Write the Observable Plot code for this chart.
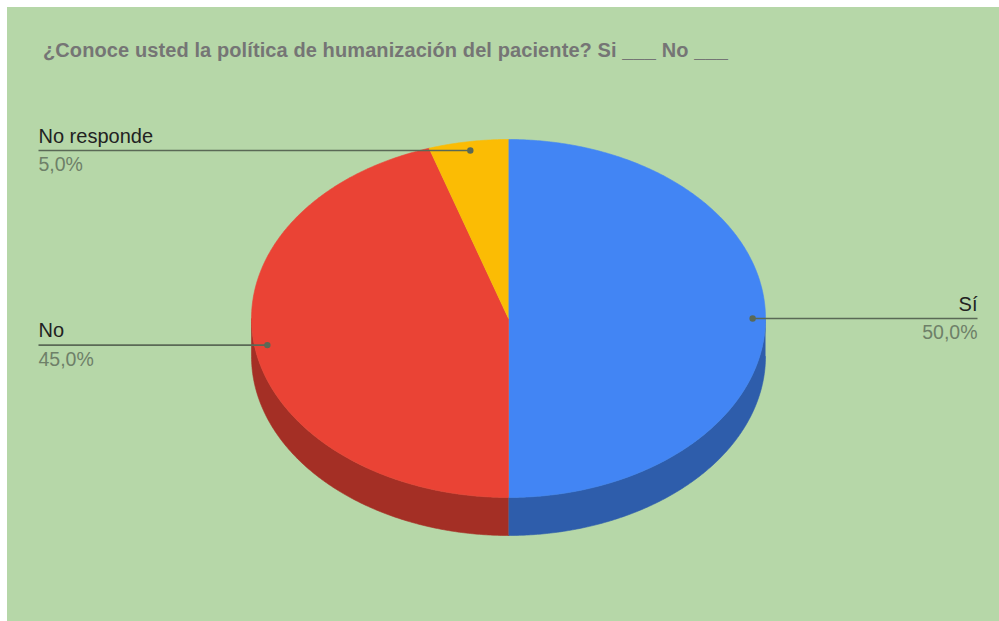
<!DOCTYPE html>
<html>
<head>
<meta charset="utf-8">
<script src="https://cdn.jsdelivr.net/npm/d3@7"></script>
<script src="https://cdn.jsdelivr.net/npm/@observablehq/plot@0.6"></script>
<style>
  html, body { margin: 0; padding: 0; background: #ffffff; }
  #frame { position: absolute; left: 7px; top: 7px; width: 992px; height: 614px; background: #b6d7a8; overflow: hidden; }
  #title { position: absolute; left: 36px; top: 33px; font: bold 20px "Liberation Sans", Arial, sans-serif; line-height: 20px; letter-spacing: 0.1px; color: #757575; white-space: nowrap; }
  #chart { position: absolute; left: 0; top: 0; }
</style>
</head>
<body>
<div id="frame">
  <div id="chart"></div>
  <div id="title">¿Conoce usted la política de humanización del paciente? Si ___ No ___</div>
</div>
<script>
// ---- data ----
const categories = ["Sí", "No", "No responde"];
const values = [50, 45, 5];
const percentLabels = ["50,0%", "45,0%", "5,0%"];
const topColors = ["#4285f4", "#ea4335", "#fbbc04"];
const sideColors = ["#2e5dab", "#a42f25", "#b08403"];

// ---- layout (pixels inside the green frame) ----
const W = 992, H = 614;
const CX = 501, CY = 311;     // pie centre
const RX = 257;               // horizontal radius (px) = 1 unit
const RY = 179 / 257;         // vertical squash (units)
const DEPTH = 38 / 257;       // side thickness (units)
const DOT_R = 0.95;           // label anchor radius fraction
const LEFT_TEXT_X = (31 - CX) / RX;
const RIGHT_TEXT_X = (970 - CX) / RX;

const pie = d3.pie().sort(null).value((d) => d.value);
const rows = categories.map((c, i) => ({category: c, value: values[i], pct: percentLabels[i], top: topColors[i], side: sideColors[i]}));
const arcs = pie(rows);

const pt = (t, k = 1, dz = 0) => ({x: k * Math.sin(t), y: k * Math.cos(t) * RY - dz});
const step = Math.PI / 360;
const sample = (a0, a1) => {
  const n = Math.max(2, Math.ceil((a1 - a0) / step));
  return d3.range(n + 1).map((j) => a0 + (a1 - a0) * j / n);
};

// side faces (front half only: angles PI/2 .. 3PI/2)
const sides = [];
arcs.forEach((a, i) => {
  const s0 = Math.max(a.startAngle, Math.PI / 2);
  const s1 = Math.min(a.endAngle, 3 * Math.PI / 2);
  if (s1 <= s0) return;
  const ts = sample(s0, s1);
  const poly = [...ts.map((t) => pt(t)), ...ts.slice().reverse().map((t) => pt(t, 1, DEPTH))];
  poly.forEach((p) => sides.push({...p, key: "side" + i, color: a.data.side}));
});

// top faces
const tops = [];
arcs.forEach((a, i) => {
  const poly = [{x: 0, y: 0}, ...sample(a.startAngle, a.endAngle).map((t) => pt(t))];
  poly.forEach((p) => tops.push({...p, key: "top" + i, color: a.data.top}));
});

// labels
const labels = arcs.map((a) => {
  const mid = (a.startAngle + a.endAngle) / 2;
  const p = pt(mid, DOT_R);
  const right = Math.sin(mid) > 0;
  return {x: p.x, y: p.y, tx: right ? RIGHT_TEXT_X : LEFT_TEXT_X, right, name: a.data.category, pct: a.data.pct};
});

const font = "Liberation Sans, Arial, sans-serif";
const chart = Plot.plot({
  width: W,
  height: H,
  margin: 0,
  style: {background: "transparent", fontFamily: font},
  x: {domain: [(0 - CX) / RX, (W - CX) / RX], range: [0, W], axis: null},
  y: {domain: [-(H - CY) / RX, CY / RX], range: [H, 0], axis: null},
  color: {type: "identity"},
  marks: [
    Plot.line(sides, {x: "x", y: "y", z: "key", fill: "color", stroke: "color", strokeWidth: 0.6}),
    Plot.line(tops, {x: "x", y: "y", z: "key", fill: "color", stroke: "color", strokeWidth: 0.6}),
    Plot.link(labels, {x1: "x", y1: "y", x2: "tx", y2: "y", stroke: "#5a6956", strokeWidth: 1.6}),
    Plot.dot(labels, {x: "x", y: "y", r: 3.2, fill: "#5a6956", stroke: "none"}),
    Plot.text(labels.filter((d) => d.right), {x: "tx", y: "y", text: "name", textAnchor: "end", lineAnchor: "bottom", dy: -8, fontSize: 20, fill: "#222222"}),
    Plot.text(labels.filter((d) => !d.right), {x: "tx", y: "y", text: "name", textAnchor: "start", lineAnchor: "bottom", dy: -8, fontSize: 20, fill: "#222222"}),
    Plot.text(labels.filter((d) => d.right), {x: "tx", y: "y", text: "pct", textAnchor: "end", lineAnchor: "top", dy: 7, fontSize: 19.5, fill: "#6e8068"}),
    Plot.text(labels.filter((d) => !d.right), {x: "tx", y: "y", text: "pct", textAnchor: "start", lineAnchor: "top", dy: 7, fontSize: 19.5, fill: "#6e8068"})
  ]
});
document.getElementById("chart").appendChild(chart);
</script>
</body>
</html>
